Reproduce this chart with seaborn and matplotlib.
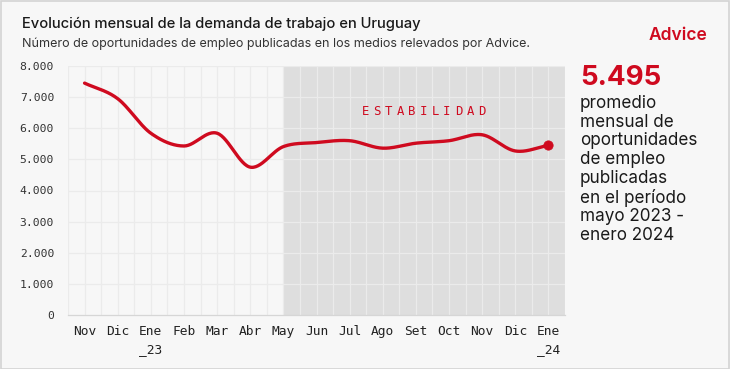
import numpy as np
import pandas as pd
import matplotlib
matplotlib.use("Agg")
import matplotlib.pyplot as plt
import seaborn as sns

# ---- datos ----
meses = ["Nov", "Dic", "Ene\n_23", "Feb", "Mar", "Abr", "May", "Jun", "Jul",
         "Ago", "Set", "Oct", "Nov", "Dic", "Ene\n_24"]
oportunidades = [7450, 6950, 5840, 5430, 5840, 4750, 5410, 5540, 5600,
                 5360, 5520, 5600, 5790, 5270, 5450]
inicio_estabilidad = 6  # May
promedio = "5.495"
etiqueta_periodo = "ESTABILIDAD"

ROJO = "#cf0a1f"
FONDO = "#f7f7f7"

sns.set_theme(style="white")
plt.rcParams["font.family"] = ["Inter", "DejaVu Sans"]

df = pd.DataFrame({"x": np.arange(len(meses)), "y": oportunidades})


# curva suave (Catmull-Rom) solo para el trazo
def suavizar(xs, ys, n=30):
    p = np.column_stack([xs, ys]).astype(float)
    p = np.vstack([p[0] - (p[1] - p[0]), p, p[-1] + (p[-1] - p[-2])])
    out = []
    t = np.linspace(0, 1, n, endpoint=False)[:, None]
    for i in range(1, len(p) - 2):
        p0, p1, p2, p3 = p[i - 1], p[i], p[i + 1], p[i + 2]
        seg = 0.5 * ((2 * p1) + (-p0 + p2) * t + (2 * p0 - 5 * p1 + 4 * p2 - p3) * t ** 2
                     + (-p0 + 3 * p1 - 3 * p2 + p3) * t ** 3)
        out.append(seg)
    out.append(p[-2][None, :])
    out = np.vstack(out)
    return pd.DataFrame({"x": out[:, 0], "y": out[:, 1]})


curva = suavizar(df["x"], df["y"])

fig = plt.figure(figsize=(7.3, 3.69), dpi=100, facecolor=FONDO)
ax = fig.add_axes([68 / 730, 54 / 369, (565 - 68) / 730, (315 - 66) / 369])
ax.set_facecolor(FONDO)

ax.axvspan(inicio_estabilidad, len(meses) - 0.5, color="#dedede", zorder=0, lw=0)

sns.lineplot(data=curva, x="x", y="y", ax=ax, color=ROJO, lw=2.4, zorder=4,
             sort=False, estimator=None)
sns.scatterplot(x=[df["x"].iloc[-1]], y=[df["y"].iloc[-1]], ax=ax, color=ROJO,
                s=45, edgecolor=ROJO, zorder=5)

ax.set_xlim(-0.5, len(meses) - 0.5)
ax.set_ylim(0, 8000)
ax.set_xticks(np.arange(len(meses)))
ax.set_xticklabels(meses, family="DejaVu Sans Mono", fontsize=9.3, color="#222222",
                   linespacing=1.5)
ax.set_xticks(np.arange(-0.5, len(meses), 1), minor=True)
ax.set_yticks(np.arange(0, 8001, 1000))
ax.set_yticklabels([f"{v:,}".replace(",", ".") for v in range(0, 8001, 1000)],
                   family="DejaVu Sans Mono", fontsize=8.2, color="#333333")
ax.tick_params(axis="x", which="major", length=0, pad=7.5)
ax.tick_params(axis="x", which="minor", length=4, color="#cccccc", width=0.8)
ax.tick_params(axis="y", length=0, pad=10)
ax.set_xlabel("")
ax.set_ylabel("")

for v in np.arange(-0.5, len(meses), 0.5):
    ax.axvline(v, color="#ebebeb", lw=0.9, zorder=1)
for v in range(1000, 8001, 1000):
    ax.axhline(v, color="#ebebeb", lw=0.9, zorder=1)

for s in ["top", "right", "left"]:
    ax.spines[s].set_visible(False)
ax.spines["bottom"].set_color("#d6d6d6")
ax.spines["bottom"].set_linewidth(0.9)

# rótulo espaciado del período
paso = 8.4
for i, ch in enumerate(etiqueta_periodo):
    ax.annotate(ch, xy=(10.23, 6530), xytext=((i - (len(etiqueta_periodo) - 1) / 2) * paso, 0),
                textcoords="offset points", color=ROJO, ha="center", va="center",
                family="DejaVu Sans Mono", fontsize=8.8, zorder=6)

# títulos
fig.text(22 / 730, 1 - 24 / 369, "Evolución mensual de la demanda de trabajo en Uruguay",
         fontsize=10.6, fontweight="medium", color="#1a1a1a", va="center")
fig.text(22 / 730, 1 - 44 / 369,
         "Número de oportunidades de empleo publicadas en los medios relevados por Advice.",
         fontsize=9, color="#333333", va="center")
fig.text(707 / 730, 1 - 35 / 369, "Advice", fontsize=12.5, color=ROJO,
         fontweight="semibold", ha="right", va="center")

# panel derecho
fig.text(580 / 730, 1 - 78 / 369, promedio, fontsize=20, fontweight="bold",
         color=ROJO, va="center")
fig.text(580 / 730, 1 - 95 / 369,
         "promedio\nmensual de\noportunidades\nde empleo\npublicadas\nen el período\nmayo 2023 -\nenero 2024",
         fontsize=12.3, color="#1a1a1a", va="top", linespacing=1.13)

fig.patches.append(plt.Rectangle((0.001, 0.001), 0.998, 0.997, transform=fig.transFigure,
                                 fill=False, edgecolor="#d4d4d4", lw=1.2))

fig.savefig("out.png", dpi=100, facecolor=FONDO)
